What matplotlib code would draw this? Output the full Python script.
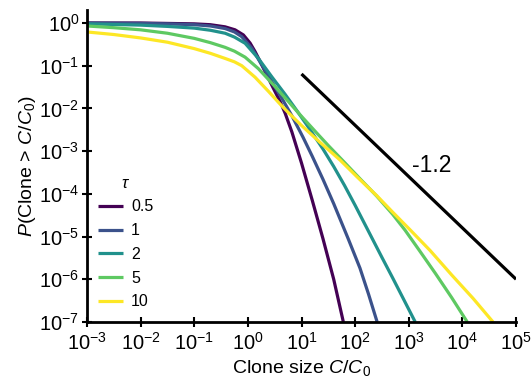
import numpy as np
import matplotlib.pyplot as plt

plt.rcParams['font.family'] = ['Liberation Sans', 'DejaVu Sans']
plt.rcParams['mathtext.fontset'] = 'custom'
plt.rcParams['mathtext.rm'] = 'Liberation Sans'
plt.rcParams['mathtext.it'] = 'Liberation Sans:italic'

# values, as log10(x) and log10(y)
taus = ['0.5', '1', '2', '5', '10']
colors = ['#440154', '#3b528b', '#21918c', '#5ec962', '#fde725']

lx_05 = [-3, -2, -1.5, -1, -0.7, -0.425, -0.239, -0.084, 0.041, 0.134, 0.228, 0.353,
         0.476, 0.601, 0.694, 0.82, 1.0, 1.2, 1.4, 1.6, 1.78]
ly_05 = [0, 0, -0.01, -0.02, -0.04, -0.09, -0.16, -0.28, -0.47, -0.67, -0.90, -1.22,
         -1.53, -1.84, -2.11, -2.55, -3.28, -4.15, -5.05, -6.0, -7.0]

lx_1 = [-3, -2, -1.5, -1, -0.7, -0.425, -0.25, -0.114, 0.073, 0.259, 0.446, 0.632,
        0.819, 1.03, 1.2, 1.40, 1.6, 1.87, 2.09, 2.25, 2.41]
ly_1 = [0, -0.01, -0.02, -0.04, -0.07, -0.13, -0.21, -0.32, -0.59, -0.98, -1.37, -1.76,
        -2.17, -2.68, -3.12, -3.66, -4.23, -5.05, -5.74, -6.35, -7.0]

lx_2 = [-3, -2, -1.5, -1, -0.7, -0.425, -0.25, -0.052, 0.196, 0.446, 0.694, 0.912,
        1.15, 1.4, 1.6, 1.8, 2.0, 2.25, 2.5, 2.7, 2.9, 3.12]
ly_2 = [-0.02, -0.05, -0.08, -0.12, -0.17, -0.24, -0.33, -0.475, -0.83, -1.26, -1.67, -2.05,
        -2.48, -2.95, -3.36, -3.80, -4.27, -4.88, -5.49, -5.97, -6.46, -7.0]

lx_5 = [-3, -2.5, -2, -1.5, -1, -0.7, -0.425, -0.25, -0.052, 0.196, 0.507, 0.756,
        0.974, 1.25, 1.5, 1.76, 2.1, 2.4, 2.7, 2.93, 3.2, 3.5, 3.8, 4.09]
ly_5 = [-0.07, -0.11, -0.16, -0.24, -0.36, -0.46, -0.57, -0.66, -0.80, -1.07, -1.49, -1.84,
        -2.15, -2.53, -2.87, -3.21, -3.66, -4.05, -4.48, -4.85, -5.33, -5.87, -6.43, -7.0]

lx_10 = [-3, -2.5, -2, -1.5, -1, -0.7, -0.425, -0.25, -0.114, 0.134, 0.383, 0.601, 0.756,
         1.0, 1.35, 1.72, 2.05, 2.4, 2.7, 3.03, 3.4, 3.8, 4.2, 4.57]
ly_10 = [-0.21, -0.27, -0.35, -0.45, -0.60, -0.71, -0.83, -0.91, -1.00, -1.27, -1.60, -1.90, -2.10,
         -2.40, -2.80, -3.21, -3.62, -4.04, -4.43, -4.85, -5.33, -5.90, -6.45, -7.0]

curves_lx = [lx_05, lx_1, lx_2, lx_5, lx_10]
curves_ly = [ly_05, ly_1, ly_2, ly_5, ly_10]

# guide line with slope -1.2
guide_x = [1e1, 1e5]
guide_y = [6.4e-2, 1.0e-6]

fig = plt.figure(figsize=(5.32, 3.81), dpi=100)
ax = fig.add_axes([0.1635, 0.155, 0.8065, 0.8184])

for lx, ly, c, t in zip(curves_lx, curves_ly, colors, taus):
    ax.plot(10 ** np.array(lx), 10 ** np.array(ly), color=c, lw=2.3, label=t,
            solid_capstyle='butt', solid_joinstyle='round')

ax.plot(guide_x, guide_y, color='black', lw=2.3, solid_capstyle='butt')
ax.text(10 ** 3.42, 10 ** -3.33, '-1.2', fontsize=16.5, ha='center', va='center')

ax.set_xscale('log')
ax.set_yscale('log')
ax.set_xlim(1e-3, 1e5)
ax.set_ylim(1e-7, 2)
ax.set_xticks([10.0 ** k for k in range(-3, 6)])
ax.set_yticks([10.0 ** k for k in range(-7, 1)])
ax.minorticks_off()

for s in ['top', 'right']:
    ax.spines[s].set_visible(False)
for s in ['left', 'bottom']:
    ax.spines[s].set_linewidth(2)

ax.tick_params(direction='inout', length=7, width=1.5, labelsize=14.5)
ax.tick_params(axis='x', pad=4)
ax.tick_params(axis='y', pad=2)

ax.set_xlabel(r'Clone size $C/C_0$', fontsize=14, labelpad=3)
ax.set_ylabel(r'$P$(Clone > $C/C_0$)', fontsize=14, labelpad=1)

leg = ax.legend(title=r'$\tau$', loc='upper left', bbox_to_anchor=(0.01, 0.49),
                frameon=False, fontsize=11.5, title_fontsize=12,
                handlelength=1.6, handletextpad=0.5, labelspacing=0.55,
                borderaxespad=0)

fig.savefig('out.png', dpi=100)
